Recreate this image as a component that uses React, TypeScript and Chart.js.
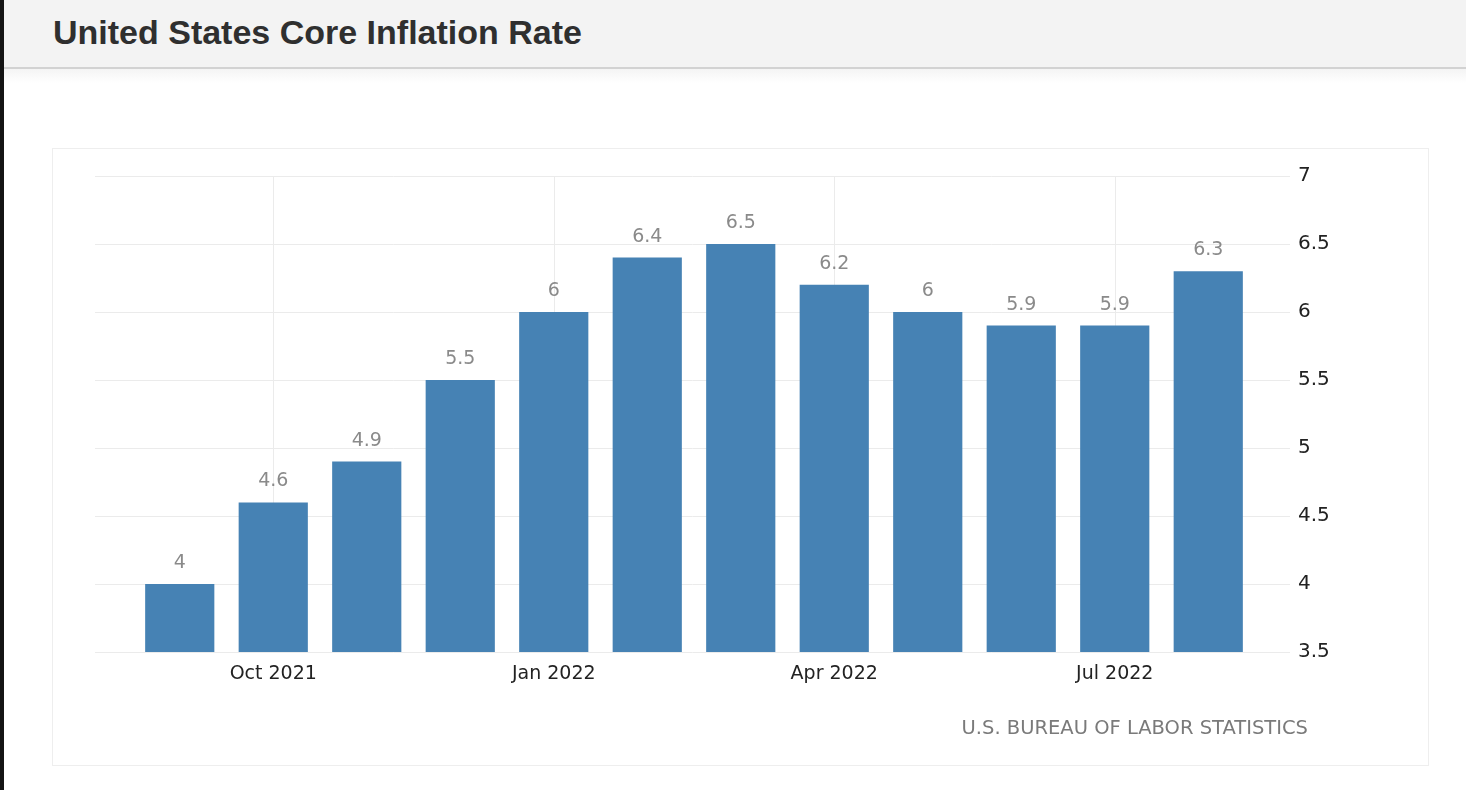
import React, { useEffect, useRef } from "react";
import { Chart, registerables } from "chart.js";

Chart.register(...registerables);

const categories = [
  "Sep 2021", "Oct 2021", "Nov 2021", "Dec 2021", "Jan 2022", "Feb 2022",
  "Mar 2022", "Apr 2022", "May 2022", "Jun 2022", "Jul 2022", "Aug 2022",
];
const coreInflation = [4.0, 4.6, 4.9, 5.5, 6.0, 6.4, 6.5, 6.2, 6.0, 5.9, 5.9, 6.3];
const shownXLabels = ["Oct 2021", "Jan 2022", "Apr 2022", "Jul 2022"];
const yMin = 3.5;
const yMax = 7;
const yStep = 0.5;
const titleText = "United States Core Inflation Rate";
const sourceText = "U.S. BUREAU OF LABOR STATISTICS";

const GRID = "#ebebeb";
const BAR = "#4682b4";
const TICK_FONT = "'DejaVu Sans', sans-serif";

const decorPlugin = {
  id: "decor",
  beforeDatasetsDraw(chart: any) {
    const { ctx, scales } = chart;
    const y = scales.y;
    const x = scales.x;
    ctx.save();
    ctx.strokeStyle = GRID;
    ctx.lineWidth = 1;
    for (let v = yMin; v <= yMax + 1e-9; v += yStep) {
      const py = Math.round(y.getPixelForValue(v)) + 0.5;
      ctx.beginPath();
      ctx.moveTo(95, py);
      ctx.lineTo(1290, py);
      ctx.stroke();
    }
    categories.forEach((c, i) => {
      if (!shownXLabels.includes(c)) return;
      const px = Math.round(x.getPixelForValue(i)) + 0.5;
      ctx.beginPath();
      ctx.moveTo(px, y.getPixelForValue(yMax));
      ctx.lineTo(px, y.getPixelForValue(yMin));
      ctx.stroke();
    });
    ctx.restore();
  },
  afterDatasetsDraw(chart: any) {
    const { ctx } = chart;
    const meta = chart.getDatasetMeta(0);
    ctx.save();
    ctx.fillStyle = "#8a8a8a";
    ctx.font = `19px ${TICK_FONT}`;
    ctx.textAlign = "center";
    ctx.textBaseline = "middle";
    meta.data.forEach((bar: any, i: number) => {
      const v = coreInflation[i];
      ctx.fillText(String(v), bar.x, bar.y - 21);
    });
    ctx.fillStyle = "#7a7a7a";
    ctx.font = `19.5px ${TICK_FONT}`;
    ctx.textAlign = "right";
    ctx.fillText(sourceText, 1308, 729);
    ctx.restore();
  },
};

export default function App() {
  const ref = useRef<HTMLCanvasElement | null>(null);

  useEffect(() => {
    if (!ref.current) return;
    const chart = new Chart(ref.current, {
      type: "bar",
      data: {
        labels: categories,
        datasets: [
          {
            data: coreInflation,
            backgroundColor: BAR,
            borderWidth: 0,
            barPercentage: 0.74,
            categoryPercentage: 1,
          },
        ],
      },
      options: {
        responsive: false,
        animation: false,
        devicePixelRatio: 1,
        layout: {
          padding: { left: 133, top: 176, right: 1466 - 1255 - 80, bottom: 790 - 652 - 40 },
        },
        plugins: {
          legend: { display: false },
          tooltip: { enabled: false },
          title: { display: false },
        },
        scales: {
          x: {
            offset: true,
            grid: { display: false },
            border: { display: false },
            afterFit: (s: any) => {
              s.height = 40;
            },
            ticks: {
              autoSkip: false,
              maxRotation: 0,
              padding: 3,
              color: "#222",
              font: { family: TICK_FONT, size: 19 },
              callback: (_v: any, i: number) =>
                shownXLabels.includes(categories[i]) ? categories[i] : "",
            },
          },
          y: {
            position: "right",
            min: yMin,
            max: yMax,
            grid: { display: false, drawTicks: false },
            border: { display: false },
            afterFit: (s: any) => {
              s.width = 80;
            },
            ticks: {
              stepSize: yStep,
              padding: 43,
              color: "#222",
              font: { family: TICK_FONT, size: 20 },
              callback: (v: any) => String(v),
            },
          },
        },
      },
      plugins: [decorPlugin],
    });
    return () => chart.destroy();
  }, []);

  return (
    <div
      style={{
        position: "fixed",
        left: 0,
        top: 0,
        width: 1466,
        height: 790,
        overflow: "hidden",
        background: "#fff",
      }}
    >
      <div
        style={{
          position: "absolute",
          left: 0,
          top: 0,
          width: 1466,
          height: 67,
          background: "#f3f3f3",
          borderBottom: "2px solid #d2d2d2",
        }}
      />
      <div
        style={{
          position: "absolute",
          left: 0,
          top: 69,
          width: 1466,
          height: 14,
          background: "linear-gradient(#f4f4f4, #ffffff)",
        }}
      />
      <div
        style={{
          position: "absolute",
          left: 53,
          top: 13,
          fontFamily: "'Liberation Sans', Arial, sans-serif",
          fontWeight: 700,
          fontSize: 34,
          color: "#2f2f2f",
          whiteSpace: "nowrap",
        }}
      >
        {titleText}
      </div>
      <div
        style={{
          position: "absolute",
          left: 52,
          top: 148,
          width: 1375,
          height: 616,
          border: "1px solid #eeeeee",
        }}
      />
      <div
        style={{
          position: "absolute",
          left: 0,
          top: 0,
          width: 4,
          height: 790,
          background: "#141414",
        }}
      />
      <canvas
        ref={ref}
        width={1466}
        height={790}
        style={{ position: "absolute", left: 0, top: 0, width: 1466, height: 790 }}
      />
    </div>
  );
}
